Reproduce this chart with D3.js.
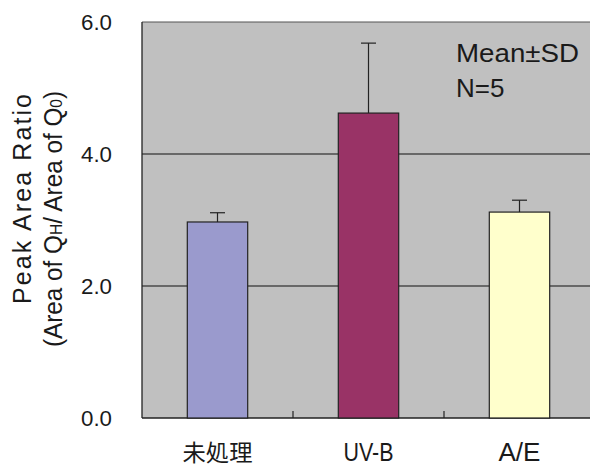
<!DOCTYPE html>
<html><head><meta charset="utf-8">
<script src="https://cdn.jsdelivr.net/npm/d3@7"></script>
<style>
body{margin:0;background:#fff;}
text{font-family:"Liberation Sans",Arial,sans-serif;fill:#1a1a1a;}
.cjk{font-family:"Noto Sans CJK JP",sans-serif;}
</style></head><body>
<svg id="c" width="590" height="467"></svg>
<script>
const categories = ["未処理", "UV-B", "A/E"];
const means = [2.97, 4.62, 3.12];
const sds = [0.14, 1.06, 0.18];
const colors = ["#9a9acd", "#993366", "#ffffcc"];
const yTicks = [0, 2, 4, 6];
const yTickLabels = ["0.0", "2.0", "4.0", "6.0"];

const svg = d3.select("#c");
const x = d3.scaleBand().domain(categories).range([142, 595]).paddingInner(0.6).paddingOuter(0.3);
const y = d3.scaleLinear().domain([0, 6]).range([418, 22]);
const step = x.step();

// plot background
svg.append("rect").attr("x", 142).attr("y", y(6)).attr("width", 595 - 142).attr("height", y(0) - y(6)).attr("fill", "#c0c0c0");

// gridlines
svg.selectAll("line.grid").data(yTicks.filter(d => d > 0)).join("line")
  .attr("x1", 142).attr("x2", 595).attr("y1", d => y(d)).attr("y2", d => y(d))
  .attr("stroke", d => d === 6 ? "#555" : "#111").attr("stroke-width", 1.2);

// axes lines
svg.append("line").attr("x1", 142).attr("x2", 142).attr("y1", y(6)).attr("y2", y(0)).attr("stroke", "#222").attr("stroke-width", 1.3);
svg.append("line").attr("x1", 142).attr("x2", 595).attr("y1", y(0)).attr("y2", y(0)).attr("stroke", "#222").attr("stroke-width", 1.3);

// category boundary ticks (inward)
svg.selectAll("line.ctick").data(categories.slice(0, -1)).join("line")
  .attr("x1", d => x(d) + x.bandwidth() / 2 + step / 2).attr("x2", d => x(d) + x.bandwidth() / 2 + step / 2)
  .attr("y1", y(0)).attr("y2", y(0) - 7).attr("stroke", "#222").attr("stroke-width", 1.2);

// error bars (upper only)
svg.selectAll("g.err").data(categories).join("g").each(function(d, i) {
  const cx = x(d) + x.bandwidth() / 2;
  const g = d3.select(this);
  g.append("line").attr("x1", cx).attr("x2", cx).attr("y1", y(means[i])).attr("y2", y(means[i] + sds[i])).attr("stroke", "#222").attr("stroke-width", 1.2);
  g.append("line").attr("x1", cx - 7.5).attr("x2", cx + 7.5).attr("y1", y(means[i] + sds[i])).attr("y2", y(means[i] + sds[i])).attr("stroke", "#222").attr("stroke-width", 1.2);
});

// bars
svg.selectAll("rect.bar").data(categories).join("rect")
  .attr("x", d => x(d)).attr("width", x.bandwidth())
  .attr("y", (d, i) => y(means[i])).attr("height", (d, i) => y(0) - y(means[i]))
  .attr("fill", (d, i) => colors[i]).attr("stroke", "#222").attr("stroke-width", 1.2);

// y tick labels
svg.selectAll("text.yt").data(yTicks).join("text")
  .attr("x", 112).attr("y", d => y(d) + 8).attr("text-anchor", "end")
  .attr("font-size", 22).attr("textLength", 31).attr("lengthAdjust", "spacingAndGlyphs")
  .text((d, i) => yTickLabels[i]);

// x labels
const xLabelWidths = [70, 50, 42];
svg.selectAll("text.xt").data(categories).join("text")
  .attr("class", (d, i) => i === 0 ? "cjk" : null)
  .attr("x", d => x(d) + x.bandwidth() / 2).attr("y", 461).attr("text-anchor", "middle")
  .attr("font-size", (d, i) => i === 0 ? 23 : 26)
  .attr("textLength", (d, i) => xLabelWidths[i]).attr("lengthAdjust", "spacingAndGlyphs")
  .text(d => d);

// y title
svg.append("text").attr("transform", "translate(31,199) rotate(-90)").attr("text-anchor", "middle")
  .attr("font-size", 25).attr("textLength", 210).attr("lengthAdjust", "spacing")
  .text("Peak Area Ratio");
const yt2 = svg.append("text").attr("transform", "translate(62,219) rotate(-90)").attr("text-anchor", "middle")
  .attr("font-size", 25).attr("textLength", 256).attr("lengthAdjust", "spacingAndGlyphs");
yt2.append("tspan").text("(Area of Q");
yt2.append("tspan").attr("font-size", 16).text("H");
yt2.append("tspan").text("/ Area of Q");
yt2.append("tspan").attr("font-size", 16).text("0");
yt2.append("tspan").text(")");

// annotation
svg.append("text").attr("x", 456).attr("y", 62).attr("font-size", 26).attr("textLength", 123).attr("lengthAdjust", "spacingAndGlyphs").text("Mean±SD");
svg.append("text").attr("x", 456).attr("y", 97).attr("font-size", 26).text("N=5");
</script></body></html>
